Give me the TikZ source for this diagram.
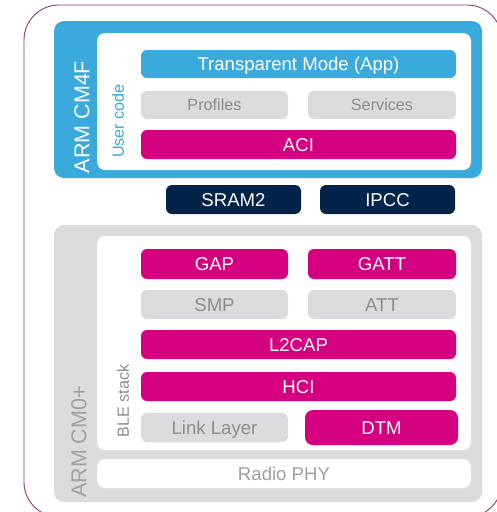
\documentclass[tikz,border=0pt]{standalone}
\usepackage{fontspec}
\setmainfont{Liberation Sans}
\usepackage{tikz}
\usetikzlibrary{positioning}
\usepackage{xcolor}
\definecolor{stblue}{HTML}{3AA9DC}
\definecolor{stpink}{HTML}{D5007F}
\definecolor{stnavy}{HTML}{03234B}
\definecolor{stgrey}{HTML}{DADBDC}
\definecolor{sttext}{HTML}{8C8C8C}
\definecolor{stlabel}{HTML}{A0A0A0}
\definecolor{stframe}{HTML}{8E3B75}
\tikzset{
	bar/.style={rounded corners=6pt, inner sep=0pt, minimum height=29pt, text height=13.3pt, text depth=0pt, font=\fontsize{18.6}{20}\selectfont},
	smalltext/.style={text height=11.6pt, font=\fontsize{16.2}{18}\selectfont},
	bluebar/.style={bar, fill=stblue, text=white},
	pinkbar/.style={bar, fill=stpink, text=white},
	navybar/.style={bar, fill=stnavy, text=white},
	greybar/.style={bar, fill=stgrey, text=sttext},
	corelbl/.style={rotate=90, font=\fontsize{21.5}{23}\selectfont},
	stacklbl/.style={rotate=90, font=\fontsize{16.2}{18}\selectfont},
}

\begin{document}
\begin{tikzpicture}[x=1pt, y=-1pt]
	\useasboundingbox (0,0) rectangle (497,512);
	\clip (0,0) rectangle (497,512);
	\draw[stframe, line width=0.9pt, rounded corners=35pt] (24,5) rectangle (502,517);

	% CM4F
	\fill[stblue, rounded corners=10pt] (54,21) rectangle (482,178);
	\fill[white, rounded corners=8pt] (97,33) rectangle (471,170);
	\node[corelbl, text=white] (cmfour) at (82,117) {ARM CM4F};
	\node[stacklbl, text=stblue] (usercode) at (118,121) {User code};
	\node[bluebar, minimum width=315pt, minimum height=28pt] (app) at (298.5,64) {Transparent Mode (App)};
	\node[greybar, smalltext, minimum width=147pt, minimum height=28pt] (profiles) at (214.5,105) {Profiles};
	\node[greybar, smalltext, minimum width=148pt, minimum height=28pt] (services) at (382,105) {Services};
	\node[pinkbar, minimum width=315pt] (aci) at (298.5,144.5) {ACI};

	% shared
	\node[navybar, minimum width=135pt] (sram) at (233.5,199.5) {SRAM2};
	\node[navybar, minimum width=135pt] (ipcc) at (387.5,199.5) {IPCC};

	% CM0+
	\fill[stgrey, rounded corners=10pt] (54,225) rectangle (482,502);
	\fill[white, rounded corners=8pt] (97,236) rectangle (471,450);
	\node[bar, fill=white, text=stlabel, rounded corners=8pt, minimum width=374pt] (radio) at (284,473.5) {Radio PHY};
	\node[corelbl, text=stlabel] (cmzero) at (79,442) {ARM CM0+};
	\node[stacklbl, text=sttext] (blestack) at (123,401) {BLE stack};
	\node[pinkbar, minimum width=147pt, minimum height=30pt] (gap) at (214.5,264) {GAP};
	\node[pinkbar, minimum width=148pt, minimum height=30pt] (gatt) at (382,264) {GATT};
	\node[greybar, minimum width=147pt] (smp) at (214.5,304.5) {SMP};
	\node[greybar, minimum width=148pt] (att) at (382,304.5) {ATT};
	\node[pinkbar, minimum width=315pt] (ltwocap) at (298.5,344.5) {L2CAP};
	\node[pinkbar, minimum width=315pt] (hci) at (298.5,386.5) {HCI};
	\node[greybar, minimum width=147pt] (linklayer) at (214.5,427.5) {Link Layer};
	\node[pinkbar, minimum width=153pt, minimum height=35pt, rounded corners=8pt] (dtm) at (381.5,427.5) {DTM};
\end{tikzpicture}
\end{document}
